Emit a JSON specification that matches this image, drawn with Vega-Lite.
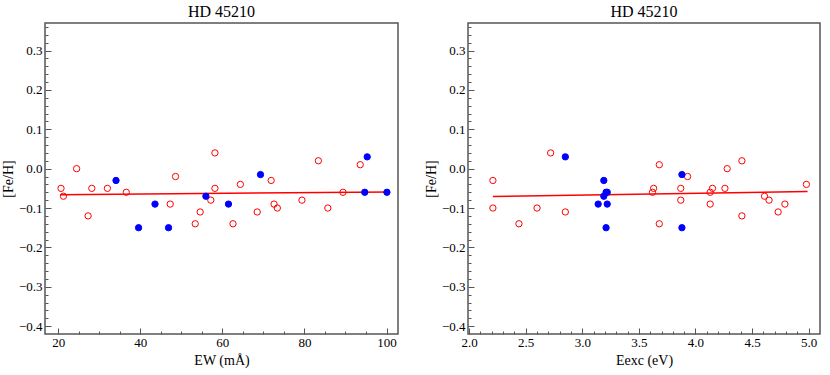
{
  "$schema": "https://vega.github.io/schema/vega-lite/v6.json",
  "padding": {"left": 0, "top": 3, "right": 5, "bottom": 5},
  "spacing": 70,
  "bounds": "flush",
  "config": {
    "font": "Times New Roman",
    "view": {"stroke": "#555", "strokeWidth": 1.5},
    "title": {"font": "Times New Roman", "fontSize": 16, "fontWeight": "normal", "color": "#000", "offset": 3},
    "axis": {
      "domain": false, "grid": false,
      "labelFont": "Times New Roman", "labelFontSize": 13, "labelColor": "#000",
      "titleFont": "Times New Roman", "titleFontSize": 14, "titleFontWeight": "normal", "titleColor": "#000",
      "tickColor": "#555", "tickWidth": 1
    }
  },
  "datasets": {
    "ew": [
      {"ew": 20.7, "feh": -0.05, "g": "Fe I"},
      {"ew": 21.3, "feh": -0.07, "g": "Fe I"},
      {"ew": 24.5, "feh": 0.0, "g": "Fe I"},
      {"ew": 27.3, "feh": -0.12, "g": "Fe I"},
      {"ew": 28.2, "feh": -0.05, "g": "Fe I"},
      {"ew": 32.0, "feh": -0.05, "g": "Fe I"},
      {"ew": 36.6, "feh": -0.06, "g": "Fe I"},
      {"ew": 47.3, "feh": -0.09, "g": "Fe I"},
      {"ew": 48.6, "feh": -0.02, "g": "Fe I"},
      {"ew": 53.4, "feh": -0.14, "g": "Fe I"},
      {"ew": 54.6, "feh": -0.11, "g": "Fe I"},
      {"ew": 57.2, "feh": -0.08, "g": "Fe I"},
      {"ew": 58.2, "feh": -0.05, "g": "Fe I"},
      {"ew": 58.2, "feh": 0.04, "g": "Fe I"},
      {"ew": 62.6, "feh": -0.14, "g": "Fe I"},
      {"ew": 64.4, "feh": -0.04, "g": "Fe I"},
      {"ew": 68.5, "feh": -0.11, "g": "Fe I"},
      {"ew": 71.9, "feh": -0.03, "g": "Fe I"},
      {"ew": 72.6, "feh": -0.09, "g": "Fe I"},
      {"ew": 73.4, "feh": -0.10, "g": "Fe I"},
      {"ew": 79.4, "feh": -0.08, "g": "Fe I"},
      {"ew": 83.4, "feh": 0.02, "g": "Fe I"},
      {"ew": 85.7, "feh": -0.10, "g": "Fe I"},
      {"ew": 89.4, "feh": -0.06, "g": "Fe I"},
      {"ew": 93.6, "feh": 0.01, "g": "Fe I"},
      {"ew": 34.1, "feh": -0.03, "g": "Fe II"},
      {"ew": 39.6, "feh": -0.15, "g": "Fe II"},
      {"ew": 43.6, "feh": -0.09, "g": "Fe II"},
      {"ew": 46.9, "feh": -0.15, "g": "Fe II"},
      {"ew": 56.0, "feh": -0.07, "g": "Fe II"},
      {"ew": 61.5, "feh": -0.09, "g": "Fe II"},
      {"ew": 69.3, "feh": -0.015, "g": "Fe II"},
      {"ew": 94.7, "feh": -0.06, "g": "Fe II"},
      {"ew": 95.3, "feh": 0.03, "g": "Fe II"},
      {"ew": 100.1, "feh": -0.06, "g": "Fe II"}
    ],
    "ewfit": [
      {"ew": 20.5, "feh": -0.066},
      {"ew": 100.7, "feh": -0.059}
    ],
    "ex": [
      {"eexc": 2.21, "feh": -0.03, "g": "Fe I"},
      {"eexc": 2.21, "feh": -0.10, "g": "Fe I"},
      {"eexc": 2.44, "feh": -0.14, "g": "Fe I"},
      {"eexc": 2.60, "feh": -0.10, "g": "Fe I"},
      {"eexc": 2.72, "feh": 0.04, "g": "Fe I"},
      {"eexc": 2.85, "feh": -0.11, "g": "Fe I"},
      {"eexc": 3.68, "feh": 0.01, "g": "Fe I"},
      {"eexc": 3.93, "feh": -0.02, "g": "Fe I"},
      {"eexc": 3.63, "feh": -0.05, "g": "Fe I"},
      {"eexc": 3.62, "feh": -0.06, "g": "Fe I"},
      {"eexc": 3.87, "feh": -0.05, "g": "Fe I"},
      {"eexc": 3.87, "feh": -0.08, "g": "Fe I"},
      {"eexc": 3.68, "feh": -0.14, "g": "Fe I"},
      {"eexc": 4.15, "feh": -0.05, "g": "Fe I"},
      {"eexc": 4.13, "feh": -0.06, "g": "Fe I"},
      {"eexc": 4.13, "feh": -0.09, "g": "Fe I"},
      {"eexc": 4.26, "feh": -0.05, "g": "Fe I"},
      {"eexc": 4.28, "feh": 0.0, "g": "Fe I"},
      {"eexc": 4.41, "feh": 0.02, "g": "Fe I"},
      {"eexc": 4.41, "feh": -0.12, "g": "Fe I"},
      {"eexc": 4.61, "feh": -0.07, "g": "Fe I"},
      {"eexc": 4.65, "feh": -0.08, "g": "Fe I"},
      {"eexc": 4.73, "feh": -0.11, "g": "Fe I"},
      {"eexc": 4.79, "feh": -0.09, "g": "Fe I"},
      {"eexc": 4.98, "feh": -0.04, "g": "Fe I"},
      {"eexc": 2.85, "feh": 0.03, "g": "Fe II"},
      {"eexc": 3.19, "feh": -0.03, "g": "Fe II"},
      {"eexc": 3.22, "feh": -0.06, "g": "Fe II"},
      {"eexc": 3.21, "feh": -0.06, "g": "Fe II"},
      {"eexc": 3.19, "feh": -0.07, "g": "Fe II"},
      {"eexc": 3.14, "feh": -0.09, "g": "Fe II"},
      {"eexc": 3.22, "feh": -0.09, "g": "Fe II"},
      {"eexc": 3.21, "feh": -0.15, "g": "Fe II"},
      {"eexc": 3.88, "feh": -0.015, "g": "Fe II"},
      {"eexc": 3.88, "feh": -0.15, "g": "Fe II"}
    ],
    "exfit": [
      {"eexc": 2.21, "feh": -0.0705},
      {"eexc": 4.99, "feh": -0.058}
    ]
  },
  "hconcat": [
    {
      "width": 353,
      "height": 311,
      "title": "HD 45210",
      "layer": [
        {
          "data": {"name": "ewfit"},
          "mark": {"type": "line", "color": "#ff0000", "strokeWidth": 1.5},
          "encoding": {
            "x": {"field": "ew", "type": "quantitative", "scale": {"domain": [16.8, 102.8], "nice": false, "zero": false},
                  "axis": {"orient": "bottom", "values": [25, 30, 35, 45, 50, 55, 65, 70, 75, 85, 90, 95], "labels": false, "tickSize": -3, "title": null}},
            "y": {"field": "feh", "type": "quantitative", "scale": {"domain": [-0.42, 0.37], "nice": false, "zero": false},
                  "axis": {"orient": "left", "values": [-0.38, -0.36, -0.34, -0.32, -0.28, -0.26, -0.24, -0.22, -0.18, -0.16, -0.14, -0.12, -0.08, -0.06, -0.04, -0.02, 0.02, 0.04, 0.06, 0.08, 0.12, 0.14, 0.16, 0.18, 0.22, 0.24, 0.26, 0.28, 0.32, 0.34, 0.36], "labels": false, "tickSize": -3, "title": null}}
          }
        },
        {
          "data": {"name": "ew"},
          "mark": {"type": "point", "filled": true, "size": 40, "strokeWidth": 1, "opacity": 1},
          "encoding": {
            "x": {"field": "ew", "type": "quantitative", "scale": {"domain": [16.8, 102.8], "nice": false, "zero": false},
                  "axis": {"orient": "bottom", "values": [20, 40, 60, 80, 100], "tickSize": -6, "labelPadding": 8, "title": "EW (mÅ)", "titlePadding": 4}},
            "y": {"field": "feh", "type": "quantitative", "scale": {"domain": [-0.42, 0.37], "nice": false, "zero": false},
                  "axis": {"orient": "left", "values": [-0.4, -0.3, -0.2, -0.1, 0.0, 0.1, 0.2, 0.3], "format": ".1f", "tickSize": -6, "labelPadding": 9, "title": "[Fe/H]", "titlePadding": 3}},
            "fill": {"field": "g", "type": "nominal", "scale": {"domain": ["Fe I", "Fe II"], "range": ["#ffffff", "#0000ff"]}, "legend": null},
            "stroke": {"field": "g", "type": "nominal", "scale": {"domain": ["Fe I", "Fe II"], "range": ["#ff0000", "#0000ff"]}, "legend": null},
            "fillOpacity": {"field": "g", "type": "nominal", "scale": {"domain": ["Fe I", "Fe II"], "range": [0, 1]}, "legend": null}
          }
        }
      ],
      "resolve": {"axis": {"x": "independent", "y": "independent"}}
    },
    {
      "width": 352,
      "height": 311,
      "title": "HD 45210",
      "layer": [
        {
          "data": {"name": "exfit"},
          "mark": {"type": "line", "color": "#ff0000", "strokeWidth": 1.5},
          "encoding": {
            "x": {"field": "eexc", "type": "quantitative", "scale": {"domain": [1.99, 5.1], "nice": false, "zero": false},
                  "axis": {"orient": "bottom", "values": [2.1, 2.2, 2.3, 2.4, 2.6, 2.7, 2.8, 2.9, 3.1, 3.2, 3.3, 3.4, 3.6, 3.7, 3.8, 3.9, 4.1, 4.2, 4.3, 4.4, 4.6, 4.7, 4.8, 4.9], "labels": false, "tickSize": -3, "title": null}},
            "y": {"field": "feh", "type": "quantitative", "scale": {"domain": [-0.42, 0.37], "nice": false, "zero": false},
                  "axis": {"orient": "left", "values": [-0.38, -0.36, -0.34, -0.32, -0.28, -0.26, -0.24, -0.22, -0.18, -0.16, -0.14, -0.12, -0.08, -0.06, -0.04, -0.02, 0.02, 0.04, 0.06, 0.08, 0.12, 0.14, 0.16, 0.18, 0.22, 0.24, 0.26, 0.28, 0.32, 0.34, 0.36], "labels": false, "tickSize": -3, "title": null}}
          }
        },
        {
          "data": {"name": "ex"},
          "mark": {"type": "point", "filled": true, "size": 40, "strokeWidth": 1, "opacity": 1},
          "encoding": {
            "x": {"field": "eexc", "type": "quantitative", "scale": {"domain": [1.99, 5.1], "nice": false, "zero": false},
                  "axis": {"orient": "bottom", "values": [2.0, 2.5, 3.0, 3.5, 4.0, 4.5, 5.0], "format": ".1f", "tickSize": -6, "labelPadding": 8, "title": "Eexc (eV)", "titlePadding": 4}},
            "y": {"field": "feh", "type": "quantitative", "scale": {"domain": [-0.42, 0.37], "nice": false, "zero": false},
                  "axis": {"orient": "left", "values": [-0.4, -0.3, -0.2, -0.1, 0.0, 0.1, 0.2, 0.3], "format": ".1f", "tickSize": -6, "labelPadding": 9, "title": "[Fe/H]", "titlePadding": 3}},
            "fill": {"field": "g", "type": "nominal", "scale": {"domain": ["Fe I", "Fe II"], "range": ["#ffffff", "#0000ff"]}, "legend": null},
            "stroke": {"field": "g", "type": "nominal", "scale": {"domain": ["Fe I", "Fe II"], "range": ["#ff0000", "#0000ff"]}, "legend": null},
            "fillOpacity": {"field": "g", "type": "nominal", "scale": {"domain": ["Fe I", "Fe II"], "range": [0, 1]}, "legend": null}
          }
        }
      ],
      "resolve": {"axis": {"x": "independent", "y": "independent"}}
    }
  ]
}
